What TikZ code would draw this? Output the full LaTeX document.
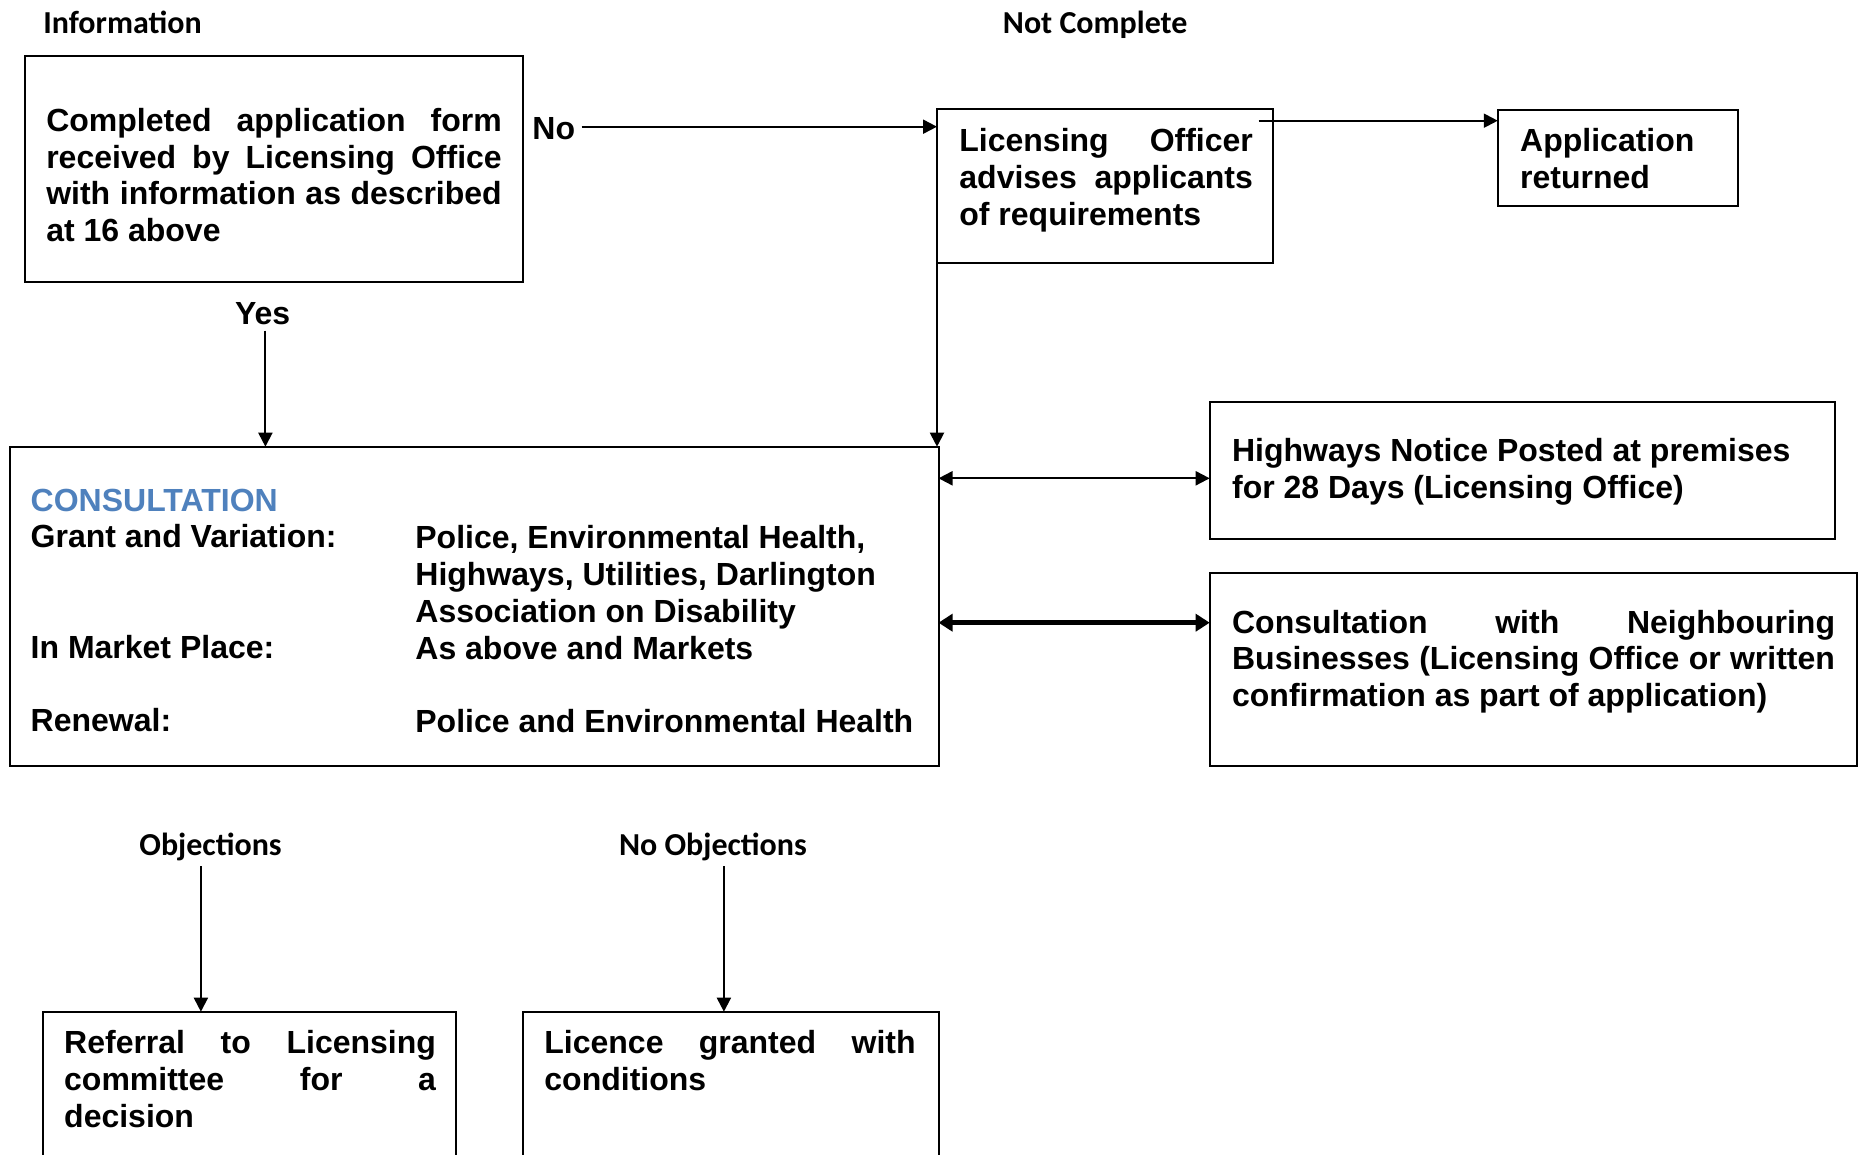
\documentclass[tikz,border=0pt]{standalone}
\usepackage{fontspec}
\setmainfont{Liberation Sans}
\newfontfamily\calfont{Carlito}
\usetikzlibrary{arrows.meta}
\definecolor{consblue}{RGB}{79,129,189}
\newcommand\jl[2]{\makebox[#1][s]{#2}}
\begin{document}
\begin{tikzpicture}[x=0.5pt,y=-0.5pt,
  box/.style={draw, line width=1pt, inner sep=0pt, outer sep=0pt, anchor=north west},
  txt/.style={inner sep=0pt, anchor=north west, align=left, font=\fontsize{16pt}{18.4pt}\selectfont\bfseries},
  lbl/.style={inner sep=0pt, anchor=base west, font=\fontsize{16pt}{18.4pt}\selectfont\bfseries},
  clbl/.style={inner sep=0pt, anchor=base west, font=\fontsize{16pt}{18.4pt}\selectfont\calfont\bfseries},
  arr/.style={line width=1pt, -{Triangle[length=7pt,width=7pt]}},
  darr/.style={line width=1pt, {Triangle[length=7pt,width=7pt]}-{Triangle[length=7pt,width=7pt]}},
  tarr/.style={line width=2.5pt, {Triangle[length=7pt,width=8.5pt]}-{Triangle[length=7pt,width=8.5pt]}}]
\clip (0,0) rectangle (1858,1155);

% boxes
\node[box, minimum width=248.85pt, minimum height=113.15pt] (b1) at (24.9,55.7) {};
\node[box, minimum width=167.8pt, minimum height=77pt] (b2) at (937,109) {};
\node[box, minimum width=120.3pt, minimum height=48pt] (b3) at (1497.8,110) {};
\node[box, minimum width=464.5pt, minimum height=159.4pt] (b4) at (9.5,446.7) {};
\node[box, minimum width=312.45pt, minimum height=68.8pt] (b5) at (1209.7,401.7) {};
\node[box, minimum width=323.4pt, minimum height=96.35pt] (b6) at (1209.7,573.3) {};
\node[box, minimum width=206.65pt, minimum height=100pt] (b7) at (42.7,1011.7) {};
\node[box, minimum width=207.9pt, minimum height=100pt] (b8) at (523,1011.7) {};

% box texts
\node[txt] (t1) at (45.9,105.2) {\strut\jl{227.75pt}{Completed application form}\\
  \strut\jl{227.75pt}{received by Licensing Office}\\
  \strut\jl{227.75pt}{with information as described}\\
  \strut at 16 above};
\node[txt] (t2) at (959,125.7) {\strut\jl{146.75pt}{Licensing Officer}\\
  \strut\jl{146.75pt}{advises applicants}\\
  \strut of requirements};
\node[txt] (t3) at (1519.8,125.7) {\strut Application\\\strut returned};
\node[txt] (t4a) at (30.3,485) {\strut\textcolor{consblue}{CONSULTATION}\\
  \strut Grant and Variation:\\\strut\\\strut\\
  \strut In Market Place:\\\strut\\
  \strut Renewal:};
\node[txt] (t4b) at (415,522.5) {\strut Police, Environmental Health,\\
  \strut Highways, Utilities, Darlington\\
  \strut Association on Disability\\
  \strut As above and Markets\\\strut\\
  \strut Police and Environmental Health};
\node[txt] (t5) at (1231.7,435.7) {\strut Highways Notice Posted at premises\\
  \strut for 28 Days (Licensing Office)};
\node[txt] (t6) at (1231.7,607) {\strut\jl{301.45pt}{Consultation with Neighbouring}\\
  \strut\jl{301.45pt}{Businesses (Licensing Office or written}\\
  \strut confirmation as part of application)};
\node[txt] (t7) at (63.8,1027.5) {\strut\jl{185.9pt}{Referral to Licensing}\\
  \strut\jl{185.9pt}{committee for a}\\
  \strut decision};
\node[txt] (t8) at (544,1027.8) {\strut\jl{185.6pt}{Licence granted with}\\
  \strut conditions};

% labels
\node[clbl] (info) at (42.9,33.8) {Information};
\node[clbl] (notc) at (1002.5,33.2) {Not Complete};
\node[lbl] (no) at (532,139.8) {No};
\node[lbl] (yes) at (234.6,324) {Yes};
\node[clbl] (obj) at (139,855) {Objections};
\node[clbl] (noobj) at (618.6,855) {No Objections};

% connectors
\coordinate (nost) at (581.6,126.7);
\draw[arr] (nost) -- (nost -| b2.west);
\coordinate (s23) at (1258.7,120.7);
\draw[arr] (s23) -- (s23 -| b3.west);
\draw[arr] (b2.south west) -- (b2.south west |- b4.north);
\coordinate (ya) at (265.4,330.6);
\draw[arr] (ya) -- (ya |- b4.north);
\coordinate (h1) at (1000,478.3);
\draw[darr] (b4.east |- h1) -- (b5.west |- h1);
\coordinate (h2) at (1000,622.7);
\draw[tarr] (b4.east |- h2) -- (b6.west |- h2);
\coordinate (oa) at (200.9,866);
\draw[arr] (oa) -- (oa |- b7.north);
\coordinate (na) at (723.9,866);
\draw[arr] (na) -- (na |- b8.north);
\end{tikzpicture}
\end{document}
